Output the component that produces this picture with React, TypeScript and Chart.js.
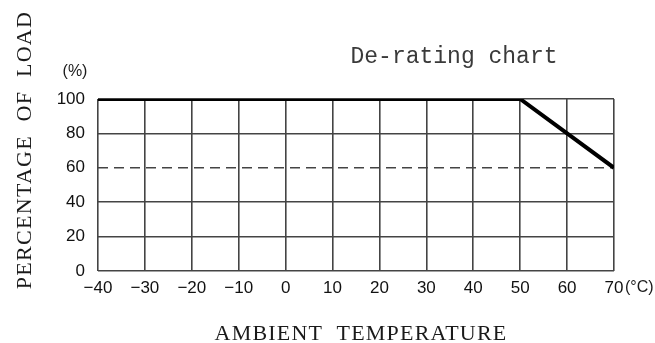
import React, { useEffect, useRef } from "react";
import { Chart, registerables } from "chart.js";

Chart.register(...registerables);

const temperatures = [-40, 50, 70];
const loadPercent = [100, 100, 60];
const xTicks = [-40, -30, -20, -10, 0, 10, 20, 30, 40, 50, 60, 70];
const yTicks = [0, 20, 40, 60, 80, 100];
const dashedLevel = 60;
const chartTitle = "De-rating chart";
const xTitle = "AMBIENT  TEMPERATURE";
const yTitle = "PERCENTAGE  OF  LOAD";
const xUnit = "(°C)";
const yUnit = "(%)";

const textPlugin = {
  id: "texts",
  afterDraw(chart: any) {
    const ctx = chart.ctx;
    const area = chart.chartArea;
    ctx.save();
    // title
    ctx.fillStyle = "#3a3a3a";
    ctx.font = "23px 'Liberation Mono'";
    ctx.textAlign = "center";
    ctx.textBaseline = "alphabetic";
    ctx.fillText(chartTitle, 454, 63);
    // x title
    ctx.fillStyle = "#1a1a1a";
    ctx.font = "22px 'Liberation Serif'";
    (ctx as any).letterSpacing = "1.2px";
    ctx.fillText(xTitle, (area.left + area.right) / 2 + 5, 340);
    // y title
    ctx.save();
    ctx.translate(31, 150);
    ctx.rotate(-Math.PI / 2);
    ctx.font = "22px 'Liberation Serif'";
    (ctx as any).letterSpacing = "1.3px";
    ctx.fillText(yTitle, 0, 0);
    ctx.restore();
    (ctx as any).letterSpacing = "0px";
    // units
    ctx.font = "16px 'Liberation Sans'";
    ctx.fillStyle = "#1a1a1a";
    ctx.textBaseline = "middle";
    ctx.textAlign = "center";
    ctx.fillText(yUnit, 75, 72);
    ctx.textAlign = "left";
    ctx.fillText(xUnit, 625, 288);
    ctx.restore();
  },
};

export default function App() {
  const ref = useRef<HTMLCanvasElement | null>(null);
  useEffect(() => {
    if (!ref.current) return;
    const chart = new Chart(ref.current, {
      type: "line",
      data: {
        datasets: [
          {
            data: temperatures.map((t, i) => ({ x: t, y: loadPercent[i] })),
            borderColor: "#000",
            borderWidth: 4,
            pointRadius: 0,
            tension: 0,
            borderJoinStyle: "miter",
          },
        ],
      },
      options: {
        animation: false,
        responsive: false,
        layout: { padding: { left: 0, top: 99, right: 41, bottom: 0 } },
        plugins: { legend: { display: false }, tooltip: { enabled: false }, title: { display: false } },
        scales: {
          x: {
            type: "linear",
            min: -40,
            max: 70,
            afterFit: (s: any) => {
              s.height = 72;
            },
            afterBuildTicks: (s: any) => {
              s.ticks = xTicks.map((v) => ({ value: v }));
            },
            grid: { color: "#444", lineWidth: 1.6, drawTicks: false },
            border: { display: false },
            ticks: {
              padding: 7,
              color: "#111",
              font: { family: "'Liberation Sans'", size: 17 },
              maxRotation: 0,
              autoSkip: false,
              callback: (v: any) => (Number(v) < 0 ? "\u2212" + Math.abs(Number(v)) : String(v)),
            },
          },
          y: {
            type: "linear",
            min: 0,
            max: 100,
            afterFit: (s: any) => {
              s.width = 98;
            },
            afterBuildTicks: (s: any) => {
              s.ticks = yTicks.map((v) => ({ value: v }));
            },
            grid: { color: "#444", lineWidth: 1.6, drawTicks: false },
            border: {
              display: false,
              dash: (c: any) => (c.tick && c.tick.value === dashedLevel ? [10, 6] : []),
            },
            ticks: {
              padding: 13,
              color: "#111",
              font: { family: "'Liberation Sans'", size: 17 },
              autoSkip: false,
            },
          },
        },
      },
      plugins: [textPlugin],
    } as any);
    return () => chart.destroy();
  }, []);
  return (
    <div style={{ position: "fixed", left: 0, top: 0, width: 655, height: 343, background: "#fff" }}>
      <canvas ref={ref} width={655} height={343} style={{ display: "block" }} />
    </div>
  );
}
